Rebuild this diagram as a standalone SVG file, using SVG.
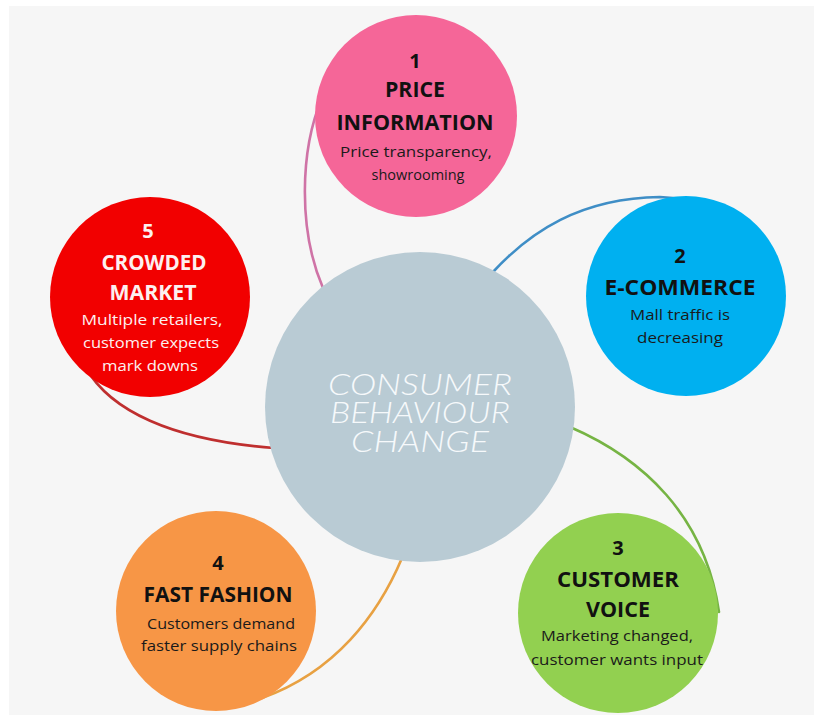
<svg xmlns="http://www.w3.org/2000/svg" width="814" height="715" viewBox="0 0 814 715">
<style>
.h{font-family:"Open Sans","Liberation Sans",sans-serif;font-weight:700;font-size:21px;text-anchor:middle;fill:#111}
.n{font-family:"Open Sans","Liberation Sans",sans-serif;font-weight:700;font-size:20px;text-anchor:middle;fill:#111}
.b{font-family:"Open Sans","Liberation Sans",sans-serif;font-weight:400;font-size:15px;text-anchor:middle;fill:#1a1a1a}
.w{fill:#fdf0f0}
.c{font-family:Lato,"Open Sans",sans-serif;font-weight:300;font-style:italic;font-size:30px;text-anchor:middle;fill:#f6f9fb}
.ln{fill:none;stroke-width:2.6;stroke-linecap:round}
</style>
<rect x="0" y="0" width="814" height="715" fill="#ffffff"/>
<rect x="9" y="6" width="805" height="709" fill="#f6f6f6"/>
<g id="connectors">
<path class="ln" stroke="#cf73a6" d="M 322,98 C 300,150 298,230 323,288"/>
<path class="ln" stroke="#3f8ec6" d="M 493,272 C 530,232 580,198 660,197 L 686,199"/>
<path class="ln" stroke="#76b444" d="M 570,427 C 642,458 705,515 719,612"/>
<path class="ln" stroke="#e8a142" d="M 402,558 C 378,615 335,672 262,698"/>
<path class="ln" stroke="#bf2f2f" d="M 86,368 C 110,410 170,440 274,448"/>
</g>
<g id="center">
<circle cx="420" cy="407" r="155" fill="#b9cbd4"/>
<text class="c" x="420" y="395" textLength="184" lengthAdjust="spacingAndGlyphs">CONSUMER</text>
<text class="c" x="420" y="423" textLength="180" lengthAdjust="spacingAndGlyphs">BEHAVIOUR</text>
<text class="c" x="420" y="452" textLength="138" lengthAdjust="spacingAndGlyphs">CHANGE</text>
</g>
<g id="node1">
<circle cx="416" cy="116" r="101" fill="#f56698"/>
<text class="n" x="415" y="68">1</text>
<text class="h" x="415" y="97" textLength="60" lengthAdjust="spacingAndGlyphs">PRICE</text>
<text class="h" x="415" y="130" textLength="157" lengthAdjust="spacingAndGlyphs">INFORMATION</text>
<text class="b" x="416" y="157" textLength="152" lengthAdjust="spacingAndGlyphs">Price transparency,</text>
<text class="b" x="418" y="180" textLength="93" lengthAdjust="spacingAndGlyphs">showrooming</text>
</g>
<g id="node2">
<circle cx="686" cy="296" r="100" fill="#00b0f0"/>
<text class="n" x="680" y="263">2</text>
<text class="h" x="680" y="295" textLength="151" lengthAdjust="spacingAndGlyphs">E-COMMERCE</text>
<text class="b" x="680" y="320" textLength="100" lengthAdjust="spacingAndGlyphs">Mall traffic is</text>
<text class="b" x="680" y="343" textLength="86" lengthAdjust="spacingAndGlyphs">decreasing</text>
</g>
<g id="node3">
<circle cx="618" cy="613" r="100" fill="#92d050"/>
<text class="n" x="618" y="555">3</text>
<text class="h" x="618" y="587" textLength="122" lengthAdjust="spacingAndGlyphs">CUSTOMER</text>
<text class="h" x="618" y="617" textLength="64" lengthAdjust="spacingAndGlyphs">VOICE</text>
<text class="b" x="617" y="641" textLength="152" lengthAdjust="spacingAndGlyphs">Marketing changed,</text>
<text class="b" x="617" y="665" textLength="172" lengthAdjust="spacingAndGlyphs">customer wants input</text>
</g>
<g id="node4">
<circle cx="216" cy="611" r="100" fill="#f79646"/>
<text class="n" x="218" y="570">4</text>
<text class="h" x="218" y="602" textLength="149" lengthAdjust="spacingAndGlyphs">FAST FASHION</text>
<text class="b" x="221" y="629" textLength="148" lengthAdjust="spacingAndGlyphs">Customers demand</text>
<text class="b" x="219" y="651" textLength="156" lengthAdjust="spacingAndGlyphs">faster supply chains</text>
</g>
<g id="node5">
<circle cx="150" cy="297" r="100" fill="#f20000"/>
<text class="n w" x="148" y="238">5</text>
<text class="h w" x="154" y="270" textLength="105" lengthAdjust="spacingAndGlyphs">CROWDED</text>
<text class="h w" x="153" y="300" textLength="87" lengthAdjust="spacingAndGlyphs">MARKET</text>
<text class="b w" x="152" y="325" textLength="141" lengthAdjust="spacingAndGlyphs">Multiple retailers,</text>
<text class="b w" x="151" y="348" textLength="136" lengthAdjust="spacingAndGlyphs">customer expects</text>
<text class="b w" x="150" y="371" textLength="96" lengthAdjust="spacingAndGlyphs">mark downs</text>
</g>
</svg>
